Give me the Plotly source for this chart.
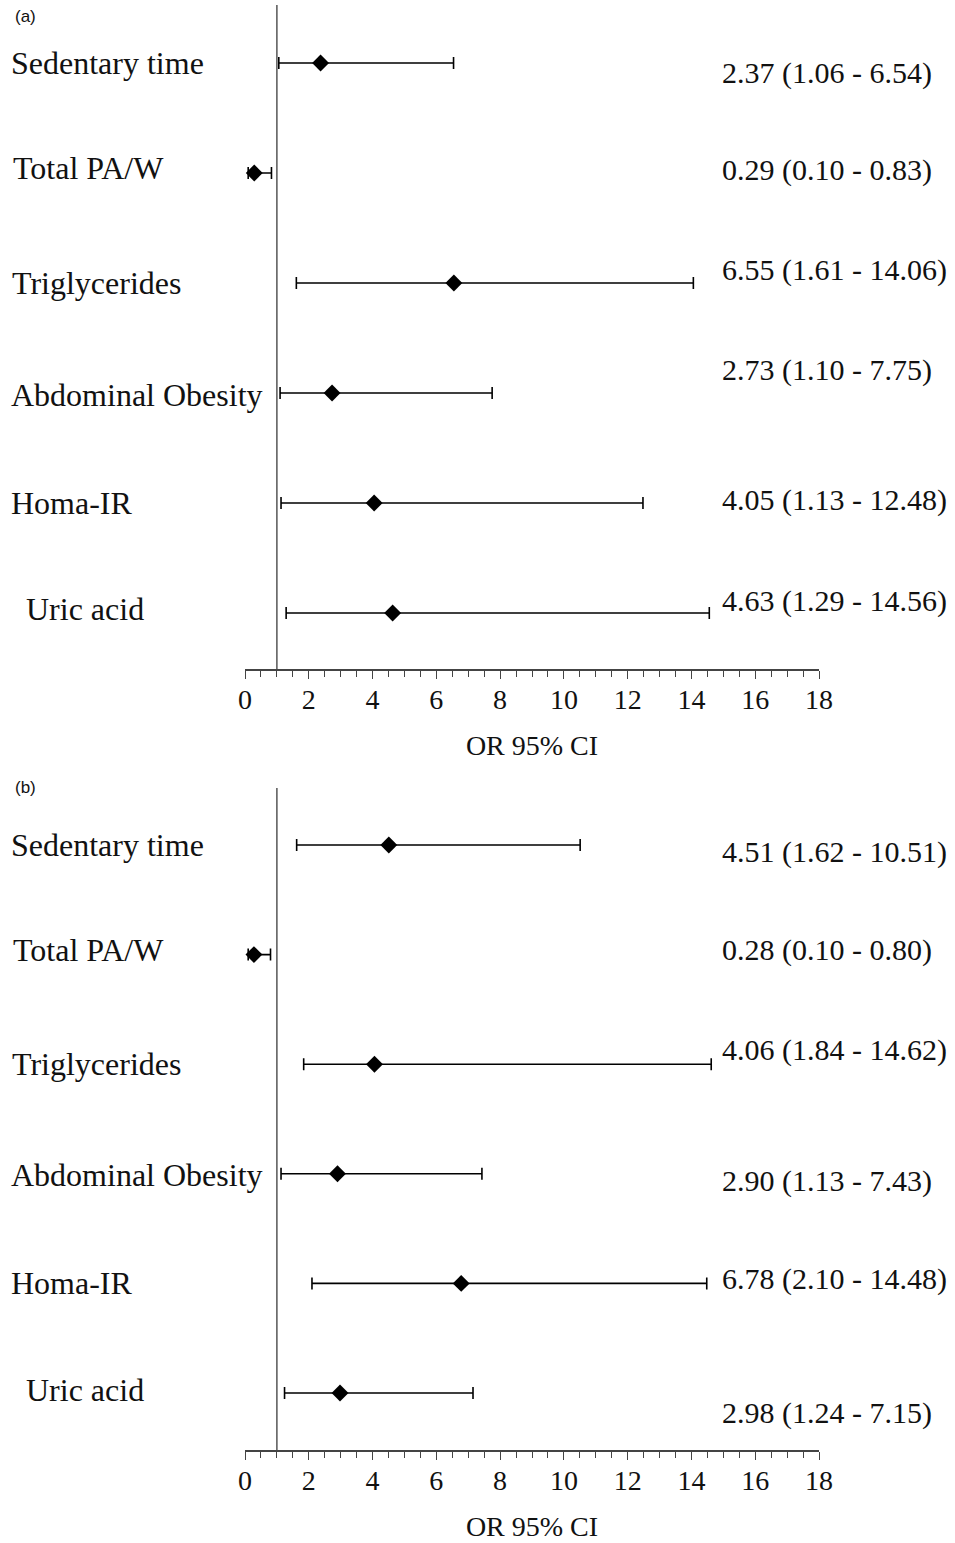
import plotly.graph_objects as go

# Odds ratios with 95% confidence intervals for two models
categories = ["Sedentary time", "Total PA/W", "Triglycerides",
              "Abdominal Obesity", "Homa-IR", "Uric acid"]

a_or = [2.37, 0.29, 6.55, 2.73, 4.05, 4.63]
a_lo = [1.06, 0.10, 1.61, 1.10, 1.13, 1.29]
a_hi = [6.54, 0.83, 14.06, 7.75, 12.48, 14.56]

b_or = [4.51, 0.28, 4.06, 2.90, 6.78, 2.98]
b_lo = [1.62, 0.10, 1.84, 1.13, 2.10, 1.24]
b_hi = [10.51, 0.80, 14.62, 7.43, 14.48, 7.15]

x_ticks = list(range(0, 19, 2))

# layout constants (pixels)
W, H = 955, 1543
FONT = "Liberation Serif"
label_x = [9, 11, 10, 9, 9, 24]
label_shift_a = [0, 5, 0, -2, 0, 4]
label_shift_b = [0, 5, 0, -1, 0, 3]
value_shift_a = [-10, 3, 13, 23, 3, 12]
value_shift_b = [-7, 5, 14, -7, 4, -20]

fig = go.Figure()

panels = [
    ("x", "y", a_or, a_lo, a_hi, label_shift_a, value_shift_a),
    ("x2", "y2", b_or, b_lo, b_hi, label_shift_b, value_shift_b),
]

rows = list(range(len(categories)))

for xa, ya, ors, los, his, lshift, vshift in panels:
    fig.add_trace(go.Scatter(
        x=ors, y=rows, xaxis=xa, yaxis=ya, mode="markers",
        marker=dict(symbol="diamond", size=13, color="black"),
        error_x=dict(type="data", symmetric=False,
                     array=[h - o for h, o in zip(his, ors)],
                     arrayminus=[o - l for o, l in zip(ors, los)],
                     color="black", thickness=1.6, width=6),
        showlegend=False, hoverinfo="skip",
    ))
    # reference line at OR = 1
    fig.add_shape(type="line", xref=xa, yref=f"{ya} domain",
                  x0=1, x1=1, y0=0, y1=1,
                  line=dict(color="#555555", width=1.5))
    for i, cat in enumerate(categories):
        fig.add_annotation(
            x=label_x[i] / W, xref="paper", y=i, yref=ya,
            text=cat, showarrow=False, xanchor="left", yanchor="middle",
            yshift=lshift[i], font=dict(family=FONT, size=32, color="#111"))
        fig.add_annotation(
            x=720 / W, xref="paper", y=i, yref=ya,
            text=f"{ors[i]:.2f} ({los[i]:.2f} - {his[i]:.2f})",
            showarrow=False, xanchor="left", yanchor="middle",
            yshift=vshift[i], font=dict(family=FONT, size=30, color="#111"))

# panel tags
for tag, ypix in [("(a)", 17), ("(b)", 787)]:
    fig.add_annotation(x=13 / W, xref="paper", y=1 - ypix / H, yref="paper",
                       text=tag, showarrow=False, xanchor="left",
                       yanchor="middle",
                       font=dict(family="Liberation Sans", size=17, color="#111"))

xdom = [245 / W, 819 / W]
xaxis_style = dict(
    domain=xdom, range=[0, 18], tickvals=x_ticks,
    showline=True, linecolor="#444", linewidth=1.5,
    ticks="outside", ticklen=8, tickwidth=1.3, tickcolor="#444",
    ticklabelstandoff=-3,
    minor=dict(dtick=0.5, ticks="outside", ticklen=6, tickwidth=1.2,
               tickcolor="#444", showgrid=False),
    showgrid=False, zeroline=False, automargin=False,
    tickfont=dict(family=FONT, size=28, color="#111"),
    title=dict(text="OR 95% CI", standoff=21,
               font=dict(family=FONT, size=28, color="#111")),
)
yaxis_style = dict(showgrid=False, zeroline=False, visible=False,
                   automargin=False)

fig.update_layout(
    width=W, height=H,
    margin=dict(l=0, r=0, t=0, b=0, autoexpand=False),
    paper_bgcolor="white", plot_bgcolor="white",
    xaxis=dict(**xaxis_style, anchor="y"),
    xaxis2=dict(**xaxis_style, anchor="y2"),
    yaxis=dict(**yaxis_style, domain=[1 - 669 / H, 1 - 5 / H],
               range=[5.509, -0.527]),
    yaxis2=dict(**yaxis_style, domain=[1 - 1450 / H, 1 - 788 / H],
                range=[5.52, -0.52]),
)

fig.write_html("out.html")
